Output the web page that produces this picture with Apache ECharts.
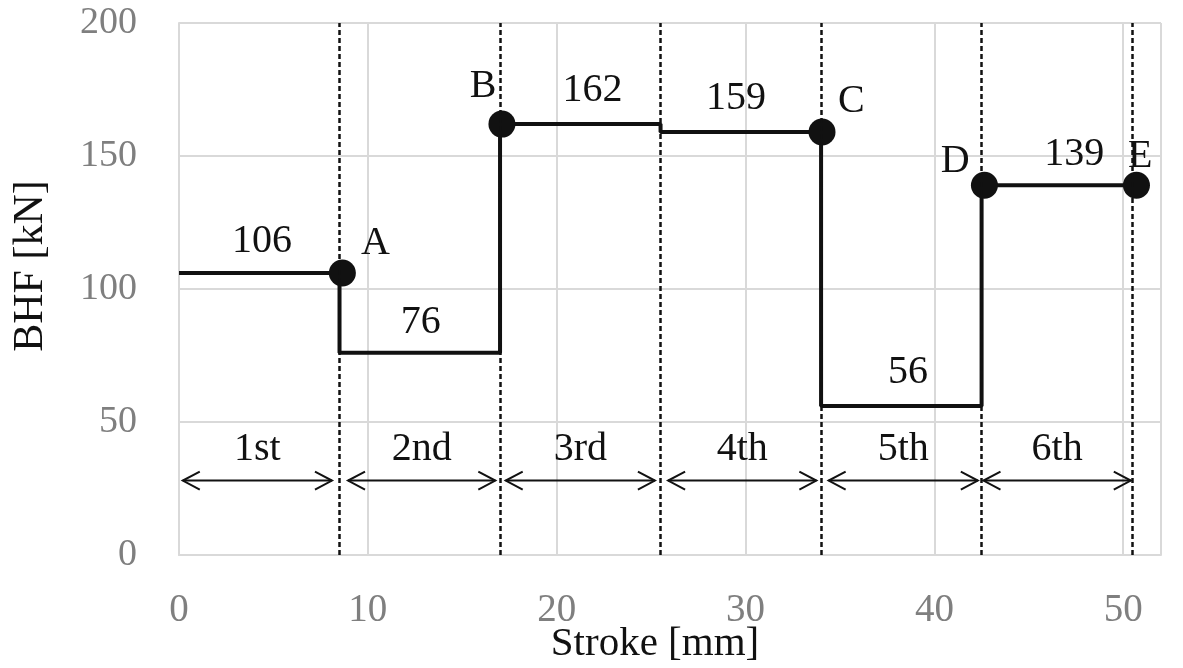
<!DOCTYPE html>
<html>
<head>
<meta charset="utf-8">
<script src="https://cdn.jsdelivr.net/npm/echarts@6/dist/echarts.min.js"></script>
<style>
html,body{margin:0;padding:0;background:#fff;}
#c{width:1183px;height:668px;}
</style>
</head>
<body>
<div id="c"></div>
<script>
// ---- data ----
const boundaries = [0, 8.5, 17, 25.5, 34, 42.5, 50.5];       // stroke [mm] at stage changes
const levels = [106, 76, 162, 159, 56, 139];                   // BHF [kN] per stage
const pointNames = ['A', 'B', 'C', 'D', 'E'];
const pointX = [8.65, 17.1, 34.05, 42.65, 50.7];
const pointY = [106, 162, 159, 139, 139];
const stageNames = ['1st', '2nd', '3rd', '4th', '5th', '6th'];
const arrowStart = [0.2, 8.95, 17.3, 25.9, 34.4, 42.6];
const arrowEnd = [8.1, 16.75, 25.2, 33.75, 42.3, 50.4];
const arrowLevel = 28;
const stageLabelLevel = 39.5;
const valueLabelX = [4.4, 12.8, 21.9, 29.5, 38.6, 47.4];
const valueLabelY = [118, 87.5, 174.5, 171.5, 68.5, 150.5];
const letterX = [10.4, 16.1, 35.6, 41.1, 50.9];
const letterY = [117, 176, 170.5, 148, 150];
const dashedX = [8.5, 17, 25.5, 34, 42.5, 50.5];
const xTicks = [0, 10, 20, 30, 40, 50];
const yTicks = [0, 50, 100, 150, 200];
const xTitle = 'Stroke [mm]';
const yTitle = 'BHF [kN]';

// ---- build ----
const FONT = 'Liberation Serif';
const stepData = [];
for (let i = 0; i < levels.length; i++) {
  stepData.push([boundaries[i], levels[i]]);
  stepData.push([boundaries[i + 1], levels[i]]);
}
const labelStyle = {fontFamily: FONT, fontSize: 40, color: '#111'};
const chart = echarts.init(document.getElementById('c'));
chart.setOption({
  animation: false,
  backgroundColor: '#fff',
  grid: {left: 179, right: 22, top: 23, bottom: 113, containLabel: false},
  graphic: [
    {type: 'text', x: 655, y: 644, style: {text: xTitle, font: '41px "Liberation Serif"', fill: '#111', align: 'center', verticalAlign: 'middle'}},
    {type: 'text', x: 31, y: 266, rotation: Math.PI / 2, style: {text: yTitle, font: '42px "Liberation Serif"', fill: '#111', align: 'center', verticalAlign: 'middle'}}
  ],
  xAxis: {
    type: 'value', min: 0, max: 52, interval: 10,
    axisLine: {show: true, lineStyle: {color: '#d9d9d9', width: 2}},
    axisTick: {show: false},
    axisLabel: {fontFamily: FONT, fontSize: 39, color: '#7f7f7f', margin: 36,
      formatter: v => xTicks.includes(v) ? String(v) : ''},
    splitLine: {show: true, lineStyle: {color: '#d9d9d9', width: 2}}
  },
  yAxis: {
    type: 'value', min: 0, max: 200, interval: 50,
    axisLine: {show: true, lineStyle: {color: '#d9d9d9', width: 2}},
    axisTick: {show: false},
    axisLabel: {fontFamily: FONT, fontSize: 38, color: '#7f7f7f', margin: 42,
      formatter: v => yTicks.includes(v) ? String(v) : ''},
    splitLine: {show: true, lineStyle: {color: '#d9d9d9', width: 2}}
  },
  series: [
    {
      type: 'line', data: stepData, showSymbol: false, z: 3,
      lineStyle: {color: '#111', width: 4},
      markLine: {
        silent: true, symbol: 'none', label: {show: false},
        lineStyle: {color: '#111', type: [5, 3], width: 2.5},
        data: dashedX.map(v => ({xAxis: v}))
      }
    },
    {
      type: 'scatter', z: 4, symbolSize: 27,
      itemStyle: {color: '#111', opacity: 1},
      data: pointX.map((x, i) => [x, pointY[i]])
    },
    {
      type: 'custom', z: 2,
      data: arrowStart.map((s, i) => [s, arrowEnd[i], arrowLevel]),
      renderItem: function (params, api) {
        const p0 = api.coord([api.value(0), api.value(2)]);
        const p1 = api.coord([api.value(1), api.value(2)]);
        const h = 17, w = 9;
        const st = {stroke: '#111', lineWidth: 2, fill: null};
        return {
          type: 'group',
          children: [
            {type: 'line', shape: {x1: p0[0], y1: p0[1], x2: p1[0], y2: p1[1]}, style: st},
            {type: 'polyline', shape: {points: [[p0[0] + h, p0[1] - w], [p0[0], p0[1]], [p0[0] + h, p0[1] + w]]}, style: st},
            {type: 'polyline', shape: {points: [[p1[0] - h, p1[1] - w], [p1[0], p1[1]], [p1[0] - h, p1[1] + w]]}, style: st}
          ]
        };
      }
    },
    {
      type: 'scatter', symbolSize: 0, z: 5, silent: true, itemStyle: {opacity: 1},
      data: arrowStart.map((s, i) => ({value: [(s + arrowEnd[i]) / 2, stageLabelLevel], name: stageNames[i]})),
      label: Object.assign({show: true, position: 'inside', formatter: p => p.name}, labelStyle)
    },
    {
      type: 'scatter', symbolSize: 0, z: 5, silent: true, itemStyle: {opacity: 1},
      data: valueLabelX.map((x, i) => ({value: [x, valueLabelY[i]], name: String(levels[i])})),
      label: Object.assign({show: true, position: 'inside', formatter: p => p.name}, labelStyle)
    },
    {
      type: 'scatter', symbolSize: 0, z: 5, silent: true, itemStyle: {opacity: 1},
      data: letterX.map((x, i) => ({value: [x, letterY[i]], name: pointNames[i]})),
      label: Object.assign({show: true, position: 'inside', formatter: p => p.name}, labelStyle)
    }
  ]
});
</script>
</body>
</html>
